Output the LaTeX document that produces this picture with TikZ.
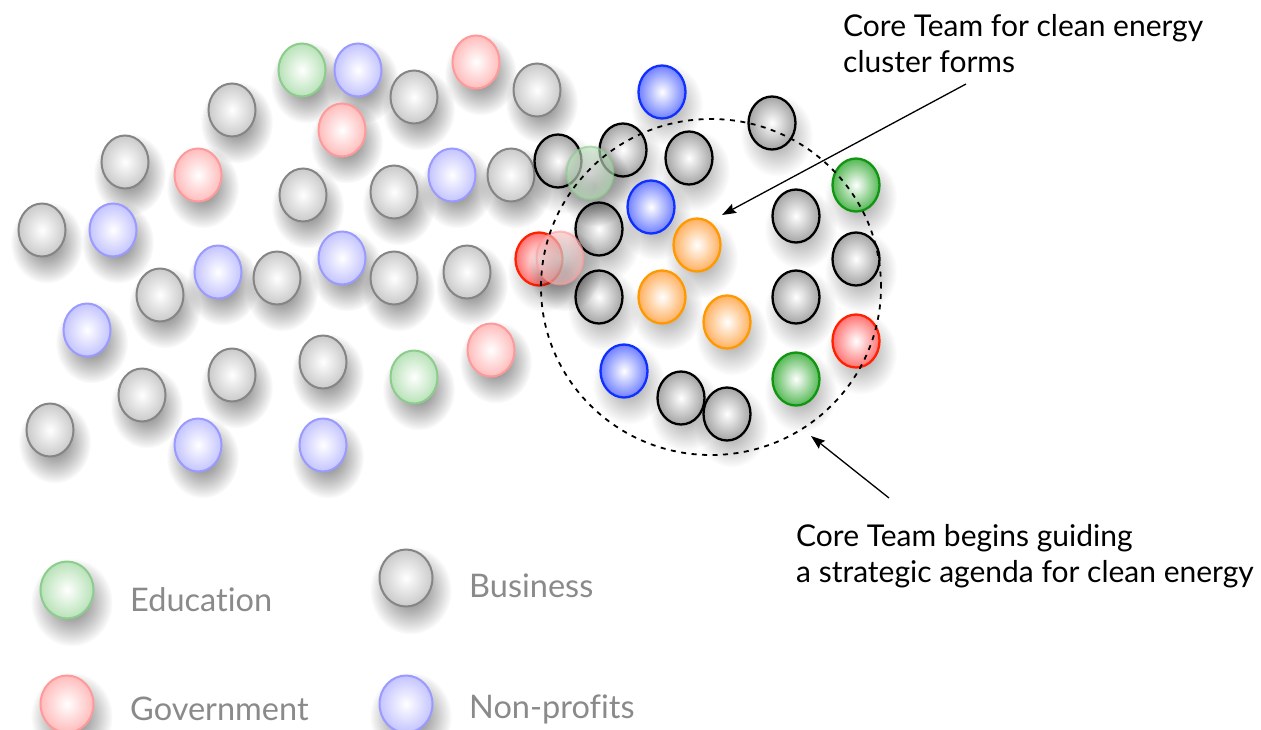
\documentclass[tikz,border=0pt]{standalone}
\usepackage{fontspec}
\setmainfont{Lato}[Ligatures=NoCommon]
\usetikzlibrary{shapes.geometric,shadows,fadings,arrows.meta}
\tikzfading[name=softshadow, inner color=transparent!0, outer color=transparent!100]
\definecolor{bizline}{HTML}{858585}
\definecolor{bizfill}{HTML}{CACACA}
\definecolor{eduline}{HTML}{8CCC8C}
\definecolor{edufill}{HTML}{B8E2B8}
\definecolor{govline}{HTML}{FF9A9A}
\definecolor{govfill}{HTML}{FFBCBC}
\definecolor{npoline}{HTML}{9A9AFF}
\definecolor{npofill}{HTML}{C4C4FF}
\definecolor{cbizline}{HTML}{000000}
\definecolor{cbizfill}{HTML}{A4A4A4}
\definecolor{ceduline}{HTML}{129612}
\definecolor{cedufill}{HTML}{55B855}
\definecolor{cgovline}{HTML}{FF2200}
\definecolor{cgovfill}{HTML}{FF7272}
\definecolor{cnpoline}{HTML}{1030FF}
\definecolor{cnpofill}{HTML}{7080FF}
\definecolor{orgline}{HTML}{FF9900}
\definecolor{orgfill}{HTML}{FFB060}
\definecolor{legtext}{HTML}{8A8A8A}
\tikzset{
  ball/.style={ellipse, minimum width=47pt, minimum height=53pt, inner sep=0pt,
    general shadow={shadow xshift=3pt, shadow yshift=-8pt, shadow scale=1.55,
      fill=black, opacity=.4, path fading=softshadow}},
  faded/.style={ball, line width=2pt, general shadow={shadow xshift=3pt, shadow yshift=-8pt, shadow scale=1.55,
      fill=black, opacity=.22, path fading=softshadow}},
  core/.style={ball, line width=2.3pt},
  biz/.style={faded, draw=bizline, inner color=white, outer color=bizfill},
  edu/.style={faded, draw=eduline, inner color=white, outer color=edufill},
  gov/.style={faded, draw=govline, inner color=white, outer color=govfill},
  npo/.style={faded, draw=npoline, inner color=white, outer color=npofill},
  cbiz/.style={core, draw=cbizline, inner color=white, outer color=cbizfill},
  cedu/.style={core, draw=ceduline, inner color=white, outer color=cedufill},
  cgov/.style={core, draw=cgovline, inner color=white, outer color=cgovfill},
  cnpo/.style={core, draw=cnpoline, inner color=white, outer color=cnpofill},
  corg/.style={core, draw=orgline, inner color=white, outer color=orgfill},
  legball/.style={minimum width=53pt, minimum height=57pt},
  legtxt/.style={anchor=west, inner sep=0pt, text=legtext, font=\fontsize{32.5}{38}\selectfont},
  note/.style={anchor=base west, inner sep=0pt, align=left, font=\fontsize{30}{36}\selectfont},
  arr/.style={line width=1.3pt, -{Stealth[length=14pt,width=10pt,inset=2pt]}},
  clusterring/.style={ellipse, draw, line width=1.8pt, dash pattern=on 5pt off 5.5pt, minimum width=340pt, minimum height=336pt, inner sep=0pt}
}
\begin{document}
\begin{tikzpicture}[x=1pt,y=-1pt]
\useasboundingbox (0,0) rectangle (1261,729);
% background actors
\node[edu] (b1) at (302,70) {};
\node[npo] (b2) at (358,70) {};
\node[gov] (b3) at (476,62) {};
\node[biz] (b4) at (414,97) {};
\node[biz] (b5) at (537,90) {};
\node[biz] (b6) at (232,110) {};
\node[gov] (b7) at (342,130) {};
\node[biz] (b8) at (125,162) {};
\node[gov] (b9) at (198,175) {};
\node[biz] (b10) at (303,195) {};
\node[biz] (b11) at (394,192) {};
\node[npo] (b12) at (452,175) {};
\node[biz] (b13) at (511,175) {};
\node[biz] (b14) at (42,230) {};
\node[npo] (b15) at (113,230) {};
\node[biz] (b16) at (160,295) {};
\node[npo] (b17) at (218,272) {};
\node[biz] (b18) at (277,278) {};
\node[npo] (b19) at (342,258) {};
\node[biz] (b20) at (394,278) {};
\node[biz] (b21) at (467,272) {};
\node[npo] (b22) at (87,330) {};
\node[biz] (b23) at (142,395) {};
\node[biz] (b24) at (232,375) {};
\node[biz] (b25) at (323,362) {};
\node[edu] (b26) at (414,377) {};
\node[gov] (b27) at (491,350) {};
\node[biz] (b28) at (50,430) {};
\node[npo] (b29) at (198,445) {};
\node[npo] (b30) at (323,445) {};
% core team cluster
\node[cnpo] (c1) at (662,92) {};
\node[cbiz] (c2) at (772,123) {};
\node[cbiz] (c3) at (558,161) {};
\node[cbiz] (c4) at (623,150) {};
\node[cbiz] (c5) at (689,158) {};
\node[cedu] (c6) at (856,185) {};
\node[cnpo] (c7) at (651,207) {};
\node[cbiz] (c8) at (599,229) {};
\node[corg] (c9) at (697,245) {};
\node[cbiz] (c10) at (796,216) {};
\node[cbiz] (c11) at (856,259) {};
\node[cgov] (c12) at (539,259) {};
\node[cbiz] (c13) at (599,297) {};
\node[corg] (c14) at (662,297) {};
\node[corg] (c15) at (727,322) {};
\node[cbiz] (c16) at (796,297) {};
\node[cgov] (c17) at (856,341) {};
\node[cnpo] (c18) at (624,371) {};
\node[cbiz] (c19) at (681,398) {};
\node[cbiz] (c20) at (727,414) {};
\node[cedu] (c21) at (796,379) {};
\node[edu, opacity=.6] (f1) at (590,173) {};
\node[gov, opacity=.6] (f2) at (560,258) {};
% dashed ring
\node[clusterring] (cluster) at (711,287) {};
% notes
\node[note] (t1) at (843,72) {Core Team for clean energy\\cluster forms};
\node[note] (t2) at (796,582) {Core Team begins guiding\\a strategic agenda for clean energy};
\coordinate (a1s) at (966,84);
\coordinate (a1e) at (722,215);
\coordinate (a2s) at (889,498);
\coordinate (a2e) at (811,436);
\draw[arr] (a1s) -- (a1e);
\draw[arr] (a2s) -- (a2e);
% legend
\node[edu, legball] (l1) at (67,590) {};
\node[biz, legball] (l2) at (406,578) {};
\node[gov, legball] (l3) at (67,704) {};
\node[npo, legball] (l4) at (406,704) {};
\node[legtxt] (lt1) at (130,600) {Education};
\node[legtxt] (lt2) at (469,586) {Business};
\node[legtxt] (lt3) at (130,709) {Government};
\node[legtxt] (lt4) at (469,709) {Non-profits};
\end{tikzpicture}
\end{document}
